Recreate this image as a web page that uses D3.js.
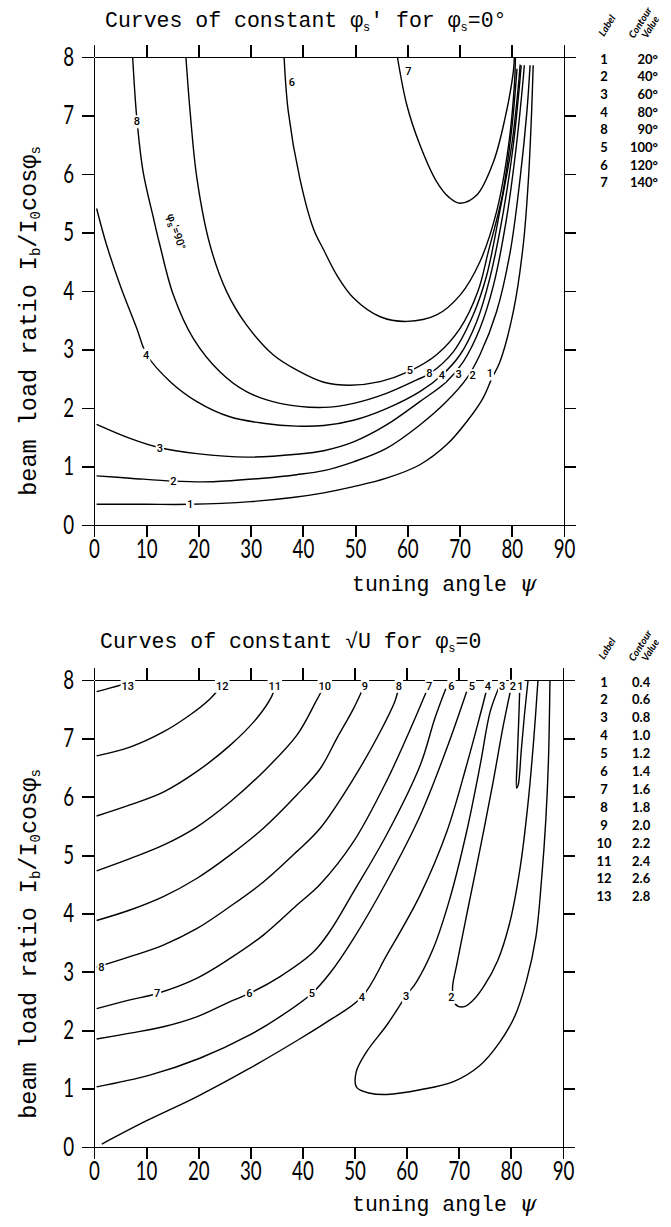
<!DOCTYPE html>
<html>
<head>
<script src="https://d3js.org/d3.v7.min.js"></script>
<style>
  body { margin: 0; background: #fff; }
  .axis path, .axis line { stroke: #000; stroke-width: 1.8; shape-rendering: crispEdges; }
  .axis text { font-family: Lato, "DejaVu Sans", sans-serif; font-weight: 400; font-size: 26px; fill: #000; }
  .contour { fill: none; stroke: #000; stroke-width: 1.4; }
  .mono { font-family: "Courier New", "Liberation Mono", monospace; fill: #000; }
  .clabel { font-family: Roboto, "DejaVu Sans", sans-serif; font-weight: 500; font-size: 11px; fill: #000; }
  .legend { font-family: Lato, "DejaVu Sans", sans-serif; font-size: 13px; font-weight: 700; fill: #000; }
  .lhead { font-family: Lato, "DejaVu Sans", sans-serif; font-size: 10px; font-style: italic; font-weight: 700; fill: #000; }
</style>
</head>
<body>
<svg id="chart" width="671" height="1227"></svg>
<script>
// shared axis ticks
var psiTicks = [0, 10, 20, 30, 40, 50, 60, 70, 80, 90];
var ratioTicks = [0, 1, 2, 3, 4, 5, 6, 7, 8];

// ---- top chart: curves of constant phi_s' (points are [psi, Ib/I0cos])
var phiLegendLabels = ["1", "2", "3", "4", "8", "5", "6", "7"];
var phiLegendValues = ["20°", "40°", "60°", "80°", "90°", "100°", "120°", "140°"];

var phiCurve1 = [[0.5,0.354],[10,0.354],[18.4,0.354],[30,0.40],[38,0.47],[44,0.55],[49.7,0.655],[56,0.80],[62.4,1.03],[67.5,1.37],[71.4,1.77],[74.5,2.17],[76.2,2.51],[77.7,2.78],[80.3,3.65],[82.2,4.79],[83.2,5.93],[83.8,7.07],[84.1,7.86]];
var phiCurve2 = [[0.5,0.84],[6.9,0.80],[15.2,0.75],[22.8,0.74],[32.4,0.80],[38.8,0.86],[44,0.93],[49.7,1.08],[56,1.31],[62.4,1.71],[67.5,2.11],[71.4,2.51],[73.9,2.91],[77.1,3.65],[79.7,4.67],[81.6,5.93],[82.9,7.07],[83.5,7.86]];
var phiCurve3 = [[0.5,1.72],[6.9,1.48],[12.6,1.32],[19.7,1.22],[29.2,1.16],[38.8,1.21],[44,1.27],[49.7,1.42],[56,1.71],[62.4,2.11],[67.5,2.45],[70.7,2.79],[73.9,3.36],[76.5,4.10],[79.0,5.24],[80.9,6.50],[82.2,7.64],[82.4,7.86]];
var phiCurve4 = [[0.5,5.41],[2.4,4.79],[5.0,4.10],[8.2,3.36],[10.1,2.91],[14.6,2.45],[19.7,2.11],[26,1.85],[32.4,1.74],[38.8,1.69],[44,1.70],[49.7,1.79],[56,1.99],[62.4,2.28],[66.6,2.56],[70.1,2.91],[73.3,3.48],[75.8,4.22],[78.4,5.36],[80.3,6.50],[81.6,7.64],[81.8,7.86]];
var phiCurve8 = [[7.4,8.0],[8.2,6.95],[9.4,6.04],[11.4,5.24],[12.6,4.79],[15.2,3.93],[19.0,3.19],[24.1,2.62],[29.2,2.28],[35.6,2.08],[44,2.01],[49.7,2.08],[56,2.25],[61.8,2.48],[64.3,2.59],[68.8,2.96],[72.6,3.59],[75.2,4.27],[77.7,5.36],[80.0,6.50],[81.4,7.64],[81.6,7.87]];
var phiCurve5 = [[17.6,8.0],[18.4,7.07],[19.7,5.93],[22.2,4.79],[25.4,3.99],[29.2,3.42],[34.3,2.91],[39.4,2.62],[44,2.44],[49.0,2.39],[54.8,2.45],[60.2,2.62],[65.6,2.91],[70.1,3.36],[73.5,3.99],[75.5,4.67],[78.2,5.64],[80.0,6.78],[81.0,7.80]];
var phiCurve6 = [[36.4,8.0],[37.2,7.07],[39.4,5.93],[42.0,5.07],[44,4.70],[46.5,4.27],[49.7,3.88],[54.8,3.56],[59.9,3.48],[65.6,3.59],[70.1,3.93],[73.9,4.50],[77.1,5.36],[79.4,6.50],[80.5,7.52],[80.7,8.0]];
var phiCurve7 = [[58.1,8.0],[59.9,7.18],[62.4,6.50],[65.6,5.87],[68,5.60],[70.1,5.50],[73.3,5.64],[76.5,6.21],[78.7,6.95],[80.3,7.75],[80.5,8.0]];

// [text, psi, ratio, cuts the line]
var phiCurveLabels = [
  ["1", 18.4, 0.354, true], ["1", 75.8, 2.59, true],
  ["2", 15.2, 0.75, true], ["2", 72.5, 2.56, true],
  ["3", 12.6, 1.32, true], ["3", 69.8, 2.58, true],
  ["4", 10.0, 2.91, true], ["4", 66.6, 2.56, true],
  ["8", 8.2, 6.9, true], ["8", 64.2, 2.59, true],
  ["5", 60.5, 2.65, true],
  ["6", 37.9, 7.58, false], ["7", 60.2, 7.76, false]
];

// ---- bottom chart: curves of constant sqrt(U)
var sqrtULegendLabels = ["1", "2", "3", "4", "5", "6", "7", "8", "9", "10", "11", "12", "13"];
var sqrtULegendValues = ["0.4", "0.6", "0.8", "1.0", "1.2", "1.4", "1.6", "1.8", "2.0", "2.2", "2.4", "2.6", "2.8"];

var sqrtUCurve1 = [[81.7,7.85],[81.5,7.3],[81.2,6.6],[81.1,6.15],[81.4,6.2],[82.0,6.8],[82.6,7.4],[83.3,8.0]];
var sqrtUCurve2 = [[80.0,7.85],[78.5,7.2],[76.6,6.26],[74.1,5.11],[71.5,3.97],[69.6,3.12],[68.8,2.72],[69.3,2.45],[70.9,2.40],[72.6,2.50],[74.8,2.75],[77.5,3.2],[79.8,3.85],[81.8,4.8],[83.3,5.9],[84.4,7.0],[85.2,8.0]];
var sqrtUCurve3 = [[77.6,7.85],[76.0,7.45],[74.1,6.54],[71.5,5.40],[68.3,4.26],[65.1,3.40],[61.9,2.83],[59.9,2.59],[56.2,2.09],[52.3,1.63],[50.3,1.28],[50.4,1.02],[53.0,0.92],[56.2,0.90],[62.6,0.98],[69.0,1.12],[74.1,1.40],[77.9,1.80],[80.8,2.25],[83.0,2.85],[84.8,3.6],[85.9,4.6],[86.7,5.6],[87.2,6.6],[87.5,8.0]];
var sqrtUCurve4 = [[1.5,0.05],[10.1,0.45],[19.7,0.86],[29.3,1.32],[38.9,1.82],[45,2.16],[51.4,2.57],[56.2,3.29],[62.6,4.32],[67.7,5.40],[71.5,6.54],[74.1,7.40],[75.4,7.85]];
var sqrtUCurve5 = [[0.5,1.03],[10.7,1.23],[20.3,1.52],[29.9,1.92],[36,2.25],[41.8,2.63],[45.3,2.98],[49.8,3.57],[56.1,4.54],[62.6,5.68],[67.7,6.83],[71.5,7.80]];
var sqrtUCurve6 = [[0.5,1.85],[6.9,1.95],[13.3,2.06],[19.7,2.23],[26.1,2.49],[29.8,2.63],[35.7,2.92],[42.1,3.34],[45.3,3.70],[49.8,4.37],[56.1,5.34],[62.6,6.54],[65.4,7.34],[67.5,7.85]];
var sqrtUCurve7 = [[0.5,2.37],[6.9,2.52],[12.1,2.63],[19.7,2.89],[26.1,3.23],[32.5,3.63],[38.9,4.14],[43.4,4.50],[49.8,5.23],[56.1,6.26],[61.3,7.28],[64.0,7.85]];
var sqrtUCurve8 = [[0.5,3.08],[6.9,3.26],[13.3,3.46],[19.7,3.74],[26.1,4.12],[32.5,4.54],[38.9,5.06],[43.4,5.46],[49.8,6.31],[54.9,7.11],[57.8,7.65],[58.4,7.85]];
var sqrtUCurve9 = [[0.5,3.88],[6.9,4.06],[13.3,4.29],[19.7,4.60],[26.1,5.00],[32.5,5.46],[38.9,6.03],[43.4,6.48],[46.6,7.0],[49.8,7.51],[51.6,7.85]];
var sqrtUCurve10 = [[0.5,4.73],[6.9,4.94],[13.3,5.17],[19.7,5.48],[26.1,5.91],[32.5,6.43],[38.9,7.05],[42.7,7.65],[43.9,7.85]];
var sqrtUCurve11 = [[0.5,5.67],[6.9,5.86],[13.3,6.08],[19.7,6.43],[26.1,6.88],[31.2,7.34],[34.1,7.72],[34.6,7.85]];
var sqrtUCurve12 = [[0.5,6.70],[6.9,6.85],[13.3,7.11],[18.4,7.40],[22.3,7.68],[24.0,7.85]];
var sqrtUCurve13 = [[0.5,7.80],[3,7.86],[5.8,7.93]];

var sqrtUCurveLabels = [
  ["13", 6.5, 7.9, true], ["12", 24.6, 7.9, true], ["11", 34.7, 7.9, true], ["10", 44.3, 7.9, true],
  ["9", 52.0, 7.9, true], ["8", 58.5, 7.9, true], ["7", 64.3, 7.9, true], ["6", 68.6, 7.9, true],
  ["5", 72.5, 7.9, true], ["4", 75.6, 7.9, true], ["3", 78.3, 7.9, true], ["2", 80.4, 7.9, true],
  ["1", 81.8, 7.9, true],
  ["8", 1.4, 3.09, true], ["7", 12.1, 2.63, true], ["6", 29.8, 2.63, true], ["5", 41.8, 2.63, true],
  ["4", 51.4, 2.57, true], ["3", 59.9, 2.59, true], ["2", 68.6, 2.57, true]
];

var svg = d3.select("#chart");

function drawPanel(p) {
  var x = d3.scaleLinear().domain([0, 90]).range([p.left, p.right]);
  var y = d3.scaleLinear().domain([0, 8]).range([p.bottom, p.top]);
  var g = svg.append("g");
  var sx = 0.72;

  g.append("g").attr("class", "axis")
    .attr("transform", "translate(0," + y(0) + ")")
    .call(d3.axisBottom(x).tickValues(psiTicks).tickSize(12).tickSizeOuter(0).tickPadding(3))
    .selectAll("text").attr("transform", "scale(" + sx + ",1)");
  g.append("g").attr("class", "axis")
    .attr("transform", "translate(0," + y(8) + ")")
    .call(d3.axisTop(x).tickValues(psiTicks).tickSize(12).tickSizeOuter(0).tickFormat(""));
  g.append("g").attr("class", "axis")
    .attr("transform", "translate(" + x(0) + ",0)")
    .call(d3.axisLeft(y).tickValues(ratioTicks).tickSize(12).tickSizeOuter(0).tickPadding(8))
    .selectAll("text").attr("transform", "scale(" + sx + ",1)").attr("x", -20 / sx);
  g.append("g").attr("class", "axis")
    .attr("transform", "translate(" + x(90) + ",0)")
    .call(d3.axisRight(y).tickValues(ratioTicks).tickSize(12).tickSizeOuter(0).tickFormat(""));

  var line = d3.line()
    .x(function(d) { return x(d[0]); })
    .y(function(d) { return y(d[1]); })
    .curve(d3.curveCatmullRom.alpha(0.5));

  g.selectAll(".contour").data(p.curves).enter().append("path")
    .attr("class", "contour")
    .attr("d", line);

  p.labels.forEach(function(l) {
    var t = g.append("text").attr("class", "clabel")
      .attr("x", x(l[1])).attr("y", y(l[2]))
      .attr("dy", "0.36em").attr("text-anchor", "middle")
      .attr("font-size", p.labelSize)
      .text(l[0]);
    if (l[3]) {
      var b = t.node().getBBox();
      g.insert("rect", function() { return t.node(); })
        .attr("x", b.x - 1).attr("y", b.y)
        .attr("width", b.width + 2).attr("height", b.height)
        .attr("fill", "#fff");
    }
  });

  // title
  var title = g.append("text").attr("class", "mono").attr("font-size", 21.5)
    .attr("x", p.titleX).attr("y", p.titleY);
  p.title(title);

  // axis titles
  var xt = g.append("text").attr("class", "mono").attr("font-size", 21.5)
    .attr("x", 352).attr("y", p.xLabelY);
  xt.append("tspan").text("tuning angle ");
  xt.append("tspan").attr("font-style", "italic").attr("font-family", "DejaVu Serif").text("ψ");

  var yt = g.append("text").attr("class", "mono").attr("font-size", 23.5)
    .attr("text-anchor", "middle")
    .attr("transform", "translate(36," + p.yLabelCenter + ") rotate(-90)");
  yt.append("tspan").text("beam load ratio I");
  yt.append("tspan").attr("font-size", 14).attr("dy", 4).text("b");
  yt.append("tspan").attr("dy", -4).text("/I");
  yt.append("tspan").attr("font-size", 14).attr("dy", 4).text("0");
  yt.append("tspan").attr("dy", -4).text("cosφ");
  yt.append("tspan").attr("font-size", 14).attr("dy", 4).text("s");

  // legend
  var ly = p.legendTop;
  g.append("text").attr("class", "lhead")
    .attr("transform", "translate(604," + (ly - 22) + ") rotate(-58)")
    .text("Label");
  g.append("text").attr("class", "lhead")
    .attr("transform", "translate(634," + (ly - 20) + ") rotate(-58)")
    .text("Contour");
  g.append("text").attr("class", "lhead")
    .attr("transform", "translate(647," + (ly - 20) + ") rotate(-58)")
    .text("Value");
  p.legendLabels.forEach(function(lab, i) {
    g.append("text").attr("class", "legend")
      .attr("x", 604).attr("y", ly + i * p.legendStep).attr("dy", "0.35em")
      .attr("text-anchor", "middle").text(lab);
    g.append("text").attr("class", "legend")
      .attr("x", p.valueX).attr("y", ly + i * p.legendStep).attr("dy", "0.35em")
      .attr("text-anchor", p.valueAnchor).text(p.legendValues[i]);
  });
}

drawPanel({
  left: 94, right: 564, top: 57, bottom: 525,
  curves: [phiCurve1, phiCurve2, phiCurve3, phiCurve4, phiCurve8, phiCurve5, phiCurve6, phiCurve7],
  labels: phiCurveLabels, labelSize: 11,
  titleX: 105, titleY: 27,
  title: function(t) {
    t.append("tspan").text("Curves of constant φ");
    t.append("tspan").attr("font-size", 12).attr("dy", 4).text("s");
    t.append("tspan").attr("dy", -4).text("' for φ");
    t.append("tspan").attr("font-size", 12).attr("dy", 4).text("s");
    t.append("tspan").attr("dy", -4).text("=0°");
  },
  xLabelY: 591, yLabelCenter: 321,
  legendTop: 59, legendStep: 17.7, legendLabels: phiLegendLabels, legendValues: phiLegendValues,
  valueX: 658, valueAnchor: "end"
});

drawPanel({
  left: 94, right: 563, top: 680, bottom: 1147,
  curves: [sqrtUCurve1, sqrtUCurve2, sqrtUCurve3, sqrtUCurve4, sqrtUCurve5, sqrtUCurve6, sqrtUCurve7,
           sqrtUCurve8, sqrtUCurve9, sqrtUCurve10, sqrtUCurve11, sqrtUCurve12, sqrtUCurve13],
  labels: sqrtUCurveLabels, labelSize: 10,
  titleX: 100, titleY: 648,
  title: function(t) {
    t.append("tspan").text("Curves of constant √U for φ");
    t.append("tspan").attr("font-size", 12).attr("dy", 4).text("s");
    t.append("tspan").attr("dy", -4).text("=0");
  },
  xLabelY: 1211, yLabelCenter: 944,
  legendTop: 682, legendStep: 17.9, legendLabels: sqrtULegendLabels, legendValues: sqrtULegendValues,
  valueX: 632, valueAnchor: "start"
});

// rotated phi_s'=90 note beside curve 8 (top chart)
(function() {
  var x = d3.scaleLinear().domain([0, 90]).range([94, 564]);
  var y = d3.scaleLinear().domain([0, 8]).range([525, 57]);
  var note = svg.append("text").attr("class", "clabel").attr("font-size", 14).attr("font-weight", 400)
    .attr("transform", "translate(" + x(14.0) + "," + y(5.3) + ") rotate(72)");
  note.append("tspan").text("φ");
  note.append("tspan").attr("font-size", 9).attr("dy", 3).text("s");
  note.append("tspan").attr("dy", -3).text("'=90°");
})();
</script>
</body>
</html>
